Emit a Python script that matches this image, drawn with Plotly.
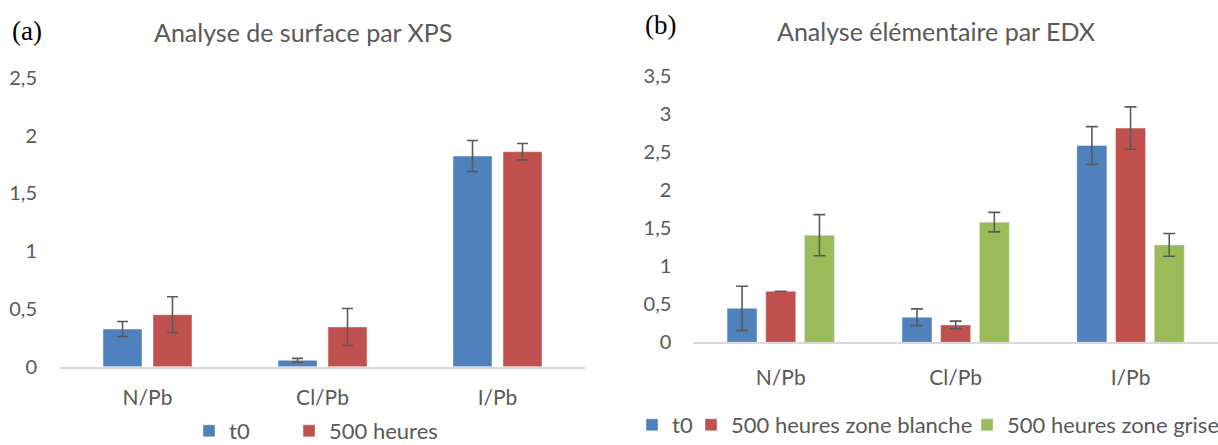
import plotly.graph_objects as go

# ---------------- data ----------------
categories = ["N/Pb", "Cl/Pb", "I/Pb"]

xps_t0 = [0.326, 0.055, 1.824]
xps_t0_err = [0.065, 0.017, 0.135]
xps_500h = [0.450, 0.344, 1.862]
xps_500h_err = [0.156, 0.160, 0.071]

edx_t0 = [0.447, 0.329, 2.587]
edx_t0_err = [0.290, 0.110, 0.248]
edx_blanche = [0.671, 0.228, 2.816]
edx_blanche_err = [0.0, 0.050, 0.278]
edx_grise = [1.408, 1.579, 1.280]
edx_grise_err = [0.270, 0.128, 0.149]

names_xps = ["t0", "500 heures"]
names_edx = ["t0", "500 heures zone blanche", "500 heures zone grise"]

# ---------------- style ----------------
W, H = 1218, 445
BLUE, RED, GREEN = "#4F81BD", "#C0504D", "#9BBB59"
TXT = "#595959"
ERR = "#5A5A5A"
FONT = "Lato"

# category pitch is 175 px in both panels
CAT_PX = 175.0
left_slot, left_bar = 50.0 / CAT_PX, 39.0 / CAT_PX
right_slot, right_bar = 38.7 / CAT_PX, 30.0 / CAT_PX


def offsets(n, slot, bar):
    return [-n * slot / 2 + i * slot + (slot - bar) / 2 for i in range(n)]


fig = go.Figure()

lo = offsets(2, left_slot, left_bar)
for i, (vals, errs, name, col, leg) in enumerate(
    [(xps_t0, xps_t0_err, names_xps[0], BLUE, "legend"),
     (xps_500h, xps_500h_err, names_xps[1], RED, "legend3")]
):
    fig.add_trace(go.Bar(
        x=categories, y=vals, name=name, marker_color=col,
        width=left_bar, offset=lo[i], showlegend=True,
        error_y=dict(type="data", array=errs, visible=True, color=ERR, thickness=1.6, width=5.5),
        xaxis="x", yaxis="y", legend=leg,
    ))

ro = offsets(3, right_slot, right_bar)
for i, (vals, errs, name, col, leg) in enumerate(
    [(edx_t0, edx_t0_err, names_edx[0], BLUE, "legend2"),
     (edx_blanche, edx_blanche_err, names_edx[1], RED, "legend4"),
     (edx_grise, edx_grise_err, names_edx[2], GREEN, "legend5")]
):
    fig.add_trace(go.Bar(
        x=categories, y=vals, name=name, marker_color=col,
        width=right_bar, offset=ro[i], showlegend=True,
        error_y=dict(type="data", array=errs, visible=True, color=ERR, thickness=1.6, width=6),
        xaxis="x2", yaxis="y2", legend=leg,
    ))

cat_font = dict(family=FONT, size=21, color=TXT)
num_font = dict(family=FONT, size=20, color=TXT)

xcommon = dict(
    type="category", showgrid=False, zeroline=False, showline=True,
    linecolor="#D9D9D9", linewidth=1.5, ticks="", tickfont=cat_font,
    fixedrange=True,
)
ycommon = dict(
    showgrid=False, zeroline=False, showline=False, ticks="",
    tickfont=num_font, dtick=0.5, tick0=0, fixedrange=True,
)

leg_font = dict(family=FONT, size=22, color=TXT)
leg_common = dict(orientation="h", xanchor="left", yanchor="middle", font=leg_font,
                  bgcolor="rgba(0,0,0,0)", borderwidth=0, visible=True)
yr = (H - 425) / H
yl_bottom = -7 / H

fig.update_layout(
    width=W, height=H,
    margin=dict(l=0, r=0, t=0, b=0, autoexpand=False),
    paper_bgcolor="white", plot_bgcolor="white",
    separators=", ",
    barmode="group",
    showlegend=True,
    font=dict(family=FONT, color=TXT),
    xaxis=dict(xcommon, domain=[60 / W, 585 / W], anchor="y", ticklabelstandoff=11),
    yaxis=dict(ycommon, domain=[(H - 366.7) / H, (H - 78) / H], range=[0, 2.5],
               anchor="x", ticklabelstandoff=22),
    xaxis2=dict(xcommon, domain=[693.3 / W, 1.0], anchor="y2", ticklabelstandoff=16),
    yaxis2=dict(ycommon, domain=[(H - 342.3) / H, (H - 76) / H], range=[0, 3.5],
                anchor="x2", ticklabelstandoff=21),
    legend=dict(leg_common, x=189 / W, y=yl_bottom, yanchor="bottom"),
    legend3=dict(leg_common, x=289 / W, y=yl_bottom, yanchor="bottom"),
    legend2=dict(leg_common, x=632 / W, y=yr),
    legend4=dict(leg_common, x=691 / W, y=yr),
    legend5=dict(leg_common, x=967 / W, y=yr),
    annotations=[
        dict(text="Analyse de surface par XPS", x=303 / W, y=(H - 32) / H,
             xref="paper", yref="paper", xanchor="center", yanchor="middle",
             showarrow=False, font=dict(family=FONT, size=25, color=TXT)),
        dict(text="Analyse élémentaire par EDX", x=936 / W, y=(H - 31.5) / H,
             xref="paper", yref="paper", xanchor="center", yanchor="middle",
             showarrow=False, font=dict(family=FONT, size=25, color=TXT)),
        dict(text="(a)", x=27 / W, y=(H - 31.5) / H,
             xref="paper", yref="paper", xanchor="center", yanchor="middle",
             showarrow=False, font=dict(family="Liberation Serif", size=27, color="#000000")),
        dict(text="(b)", x=660 / W, y=(H - 25) / H,
             xref="paper", yref="paper", xanchor="center", yanchor="middle",
             showarrow=False, font=dict(family="Liberation Serif", size=27, color="#000000")),
    ],
)

fig.write_html(
    "out.html",
    config={"displayModeBar": False},
    post_script="document.body.style.margin='0';document.body.style.overflow='hidden';",
)
